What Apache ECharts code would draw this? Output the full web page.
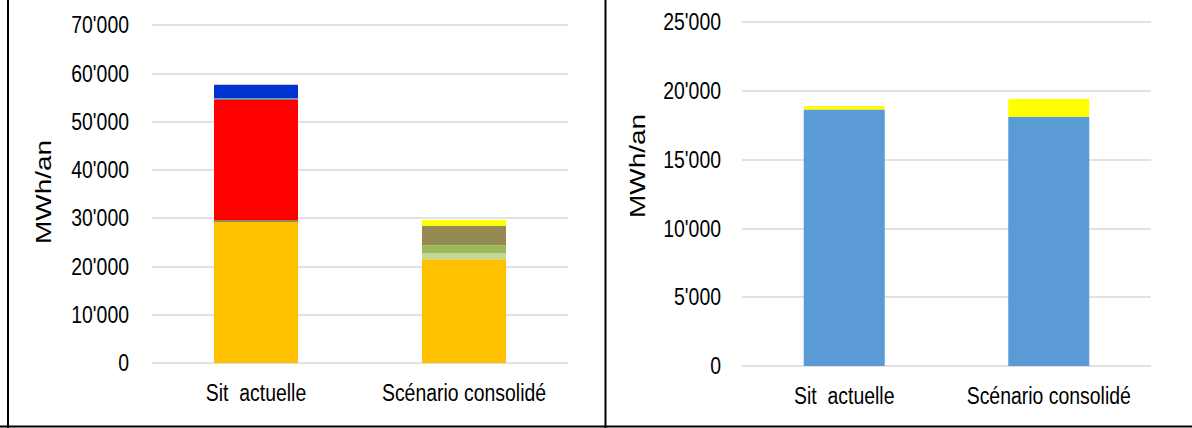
<!DOCTYPE html>
<html>
<head>
<meta charset="utf-8">
<script src="https://cdn.jsdelivr.net/npm/echarts@6/dist/echarts.min.js"></script>
<style>
  html, body { margin: 0; padding: 0; background: #fff; overflow: hidden; }
  #wrap { width: 1192px; height: 428px; overflow: hidden; }
  /* the figure is laid out wide and narrowed horizontally, giving the condensed lettering */
  #chart { width: 1472px; height: 428px; transform: scaleX(0.80978); transform-origin: 0 0; }
</style>
</head>
<body>
<div id="wrap"><div id="chart"></div></div>
<script>
// Categories shared by both panels
const categories = ['Sit  actuelle', 'Scénario consolidé'];

// Left panel: stacked components (MWh/an)
const orangeVals     = [29200, 21500];
const lightGreenVals = [0, 1250];
const greenVals      = [0, 1650];
const oliveVals      = [400, 4000];
const redVals        = [25000, 0];
const cyanVals       = [300, 0];
const blueVals       = [2700, 0];
const yellowVals     = [0, 1200];

// Right panel: stacked components (MWh/an)
const rightBlueVals   = [18650, 18120];
const rightYellowVals = [250, 1280];

// Tick settings
const leftTicks  = { min: 0, max: 70000, interval: 10000 };
const rightTicks = { min: 0, max: 25000, interval: 5000 };

const yTitle = 'MWh/an';

const S = 1192 / 1472; // horizontal squeeze applied by CSS
const px = x => x / S;  // screen x -> layout x

const FONT = 'Liberation Sans, Arial, sans-serif';
const fmt = v => String(v).replace(/\B(?=(\d{3})+(?!\d))/g, "'");

function yAxisFor(ticks, gridIndex, margin) {
  return {
    type: 'value', gridIndex,
    min: ticks.min, max: ticks.max, interval: ticks.interval,
    axisLine: { show: false }, axisTick: { show: false },
    axisLabel: { formatter: fmt, fontFamily: FONT, fontSize: 24, color: '#000', margin },
    splitLine: { lineStyle: { color: '#d9d9d9', width: 1.5 } }
  };
}
function xAxisFor(gridIndex) {
  return {
    type: 'category', gridIndex, data: categories,
    axisLine: { show: false }, axisTick: { show: false },
    axisLabel: { interval: 0, hideOverlap: false, fontFamily: FONT, fontSize: 24, color: '#000', margin: 18, lineHeight: 24 }
  };
}
function stackSeries(name, data, color, axisIndex, stack, width) {
  return {
    name, type: 'bar', stack, data,
    xAxisIndex: axisIndex, yAxisIndex: axisIndex,
    barWidth: width, itemStyle: { color }, emphasis: { disabled: true },
    animation: false
  };
}

const leftW = px(84), rightW = px(81);

const option = {
  animation: false,
  grid: [
    { left: px(152), top: 25, width: px(568) - px(152), height: 338 },
    { left: px(742), top: 22, width: px(1151) - px(742), height: 344 }
  ],
  xAxis: [xAxisFor(0), xAxisFor(1)],
  yAxis: [yAxisFor(leftTicks, 0, px(23)), yAxisFor(rightTicks, 1, px(21))],
  series: [
    stackSeries('orange', orangeVals, '#FFC000', 0, 'L', leftW),
    stackSeries('lightgreen', lightGreenVals, '#C4D79B', 0, 'L', leftW),
    stackSeries('green', greenVals, '#9BBB59', 0, 'L', leftW),
    stackSeries('olive', oliveVals, '#948A54', 0, 'L', leftW),
    stackSeries('red', redVals, '#FF0000', 0, 'L', leftW),
    stackSeries('cyan', cyanVals, '#1FC0EC', 0, 'L', leftW),
    stackSeries('blue', blueVals, '#0033CC', 0, 'L', leftW),
    stackSeries('yellow', yellowVals, '#FFFF00', 0, 'L', leftW),
    stackSeries('rblue', rightBlueVals, '#5B9BD5', 1, 'R', rightW),
    stackSeries('ryellow', rightYellowVals, '#FFFF00', 1, 'R', rightW)
  ],
  graphic: [
    { type: 'text', x: px(43), y: 192, rotation: Math.PI / 2,
      style: { text: yTitle, font: '28px ' + FONT, fill: '#000', align: 'center', verticalAlign: 'middle' } },
    { type: 'text', x: px(637), y: 166, rotation: Math.PI / 2,
      style: { text: yTitle, font: '28px ' + FONT, fill: '#000', align: 'center', verticalAlign: 'middle' } },
    // panel frame
    { type: 'line', shape: { x1: px(8), y1: 0, x2: px(8), y2: 428 }, style: { stroke: '#000', lineWidth: px(2) } },
    { type: 'line', shape: { x1: px(605.5), y1: 0, x2: px(605.5), y2: 428 }, style: { stroke: '#000', lineWidth: px(2) } },
    { type: 'line', shape: { x1: 0, y1: 426.5, x2: 1472, y2: 426.5 }, style: { stroke: '#000', lineWidth: 2 } }
  ]
};

const chart = echarts.init(document.getElementById('chart'), null, { renderer: 'svg' });
chart.setOption(option);
</script>
</body>
</html>
